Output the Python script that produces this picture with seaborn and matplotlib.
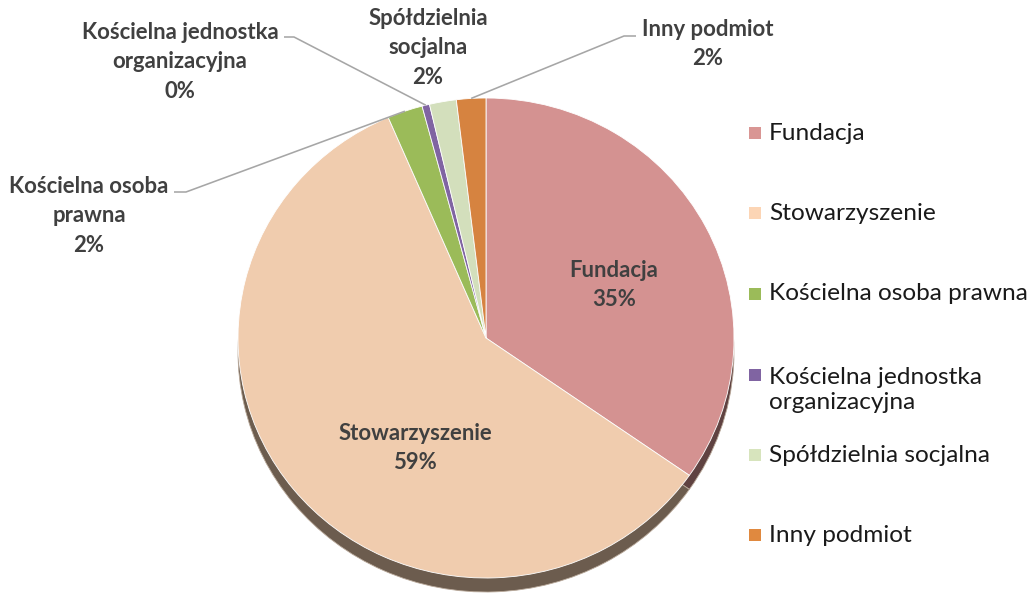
import numpy as np
import matplotlib
matplotlib.use("Agg")
import matplotlib.pyplot as plt
import matplotlib.colors as mcolors
from matplotlib.patches import Rectangle
import seaborn as sns

# ---------------- data ----------------
categories = ["Fundacja", "Stowarzyszenie", "Kościelna osoba prawna",
              "Kościelna jednostka organizacyjna", "Spółdzielnia socjalna", "Inny podmiot"]
shares = [34.7, 58.85, 2.3, 0.49, 1.75, 1.91]
data_labels = ["Fundacja", "Stowarzyszenie", "Kościelna osoba\nprawna",
               "Kościelna jednostka\norganizacyjna", "Spółdzielnia\nsocjalna", "Inny podmiot"]
legend_labels = ["Fundacja", "Stowarzyszenie", "Kościelna osoba prawna",
                 "Kościelna jednostka\norganizacyjna", "Spółdzielnia socjalna", "Inny podmiot"]

# ---------------- style ----------------
face_colors = ["#D49291", "#F0CCAE", "#9BBB59", "#8064A2", "#D3DFBC", "#D68340"]
legend_colors = ["#D99694", "#FCD5B5", "#9BBB59", "#8064A2", "#D7E4BD", "#E0893F"]
label_color = "#404040"
leader_color = "#A6A6A6"

sns.set_theme(style="white")
plt.rcParams['font.family'] = ['Lato', 'DejaVu Sans']

W, H, DPI = 1033, 594, 100
fig = plt.figure(figsize=(W / DPI, H / DPI), dpi=DPI)
fig.patch.set_facecolor("white")

# pie geometry (pixels)
cx, cy, rx, ry, depth = 486, 338, 248, 240, 14
ylo = -1 - depth / ry - 0.03
pie_ax = fig.add_axes([(cx - rx) / W, (H - (cy - ylo * ry)) / H, 2 * rx / W, (1 - ylo) * ry / H])

def darken(c, f):
    r, g, b = mcolors.to_rgb(c)
    return (r * f, g * f, b * f)

side_colors = [darken(c, 0.45) for c in face_colors]
# side (depth) of the 3D pie
pie_ax.pie(shares, colors=side_colors, startangle=90, counterclock=False,
           center=(0, -depth / ry), radius=1,
           wedgeprops=dict(edgecolor="#B9A99A", linewidth=0.6))
# top face
wedges, _ = pie_ax.pie(shares, colors=face_colors, startangle=90, counterclock=False,
                       wedgeprops=dict(edgecolor="white", linewidth=0.6))
pie_ax.set_xlim(-1, 1)
pie_ax.set_ylim(ylo, 1)
pie_ax.set_aspect("auto")
pie_ax.axis("off")

# overlay in pixel coordinates
ov = fig.add_axes([0, 0, 1, 1])
ov.set_xlim(0, W)
ov.set_ylim(H, 0)
ov.axis("off")
ov.patch.set_alpha(0)

def rim_point(i, r=1.0):
    w = wedges[i]
    th = np.deg2rad((w.theta1 + w.theta2) / 2)
    p = pie_ax.transData.transform((r * np.cos(th), r * np.sin(th)))
    return ov.transData.inverted().transform(p)

pct = [f"{round(v)}%" for v in shares]
lab_kw = dict(fontsize=15.9, fontweight="bold", color=label_color, ha="center",
              va="center", linespacing=1.5)

# label placements (pixel centres of text blocks)
label_pos = [(614, 285), (415, 448), (89, 216), (180, 62), (428, 48), (708, 44)]
# leader: (start x at label side, y, horizontal step)
leaders = {2: (174, 192, 12), 3: (284, 37, 10), 5: (636, 36, -12)}

for i, (x, y) in enumerate(label_pos):
    ov.text(x, y, f"{data_labels[i]}\n{pct[i]}", **lab_kw)
    if i in leaders:
        sx, sy, step = leaders[i]
        ex, ey = rim_point(i)
        ov.plot([sx, sx + step, ex], [sy, sy, ey], color=leader_color, lw=1.15,
                solid_capstyle="butt")

# legend (Excel-like spacing)
leg_square_y = [133, 213, 294, 375, 455, 535]
leg_text_y = [133, 213, 294, 390, 455, 535]
for i in range(len(categories)):
    ov.add_patch(Rectangle((749, leg_square_y[i] - 6), 12, 12,
                           facecolor=legend_colors[i], edgecolor="none"))
    ov.text(769, leg_text_y[i], legend_labels[i], fontsize=17.6, color="#1A1A1A",
            ha="left", va="center", linespacing=1.25)

fig.savefig("out.png", dpi=DPI, facecolor="white")
